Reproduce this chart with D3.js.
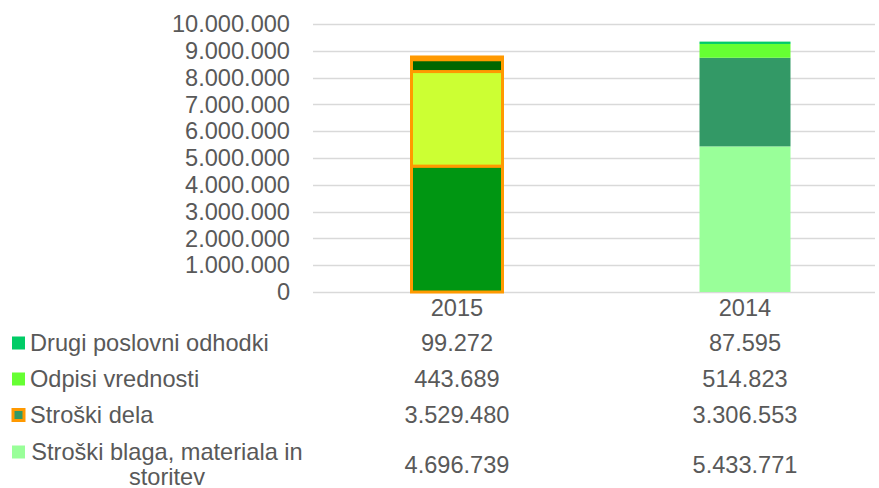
<!DOCTYPE html>
<html><head><meta charset="utf-8">
<script src="https://cdn.jsdelivr.net/npm/d3@7/dist/d3.min.js"></script>
<style>body{margin:0;background:#fff}svg{display:block}text{font-family:"Liberation Sans",Arial,sans-serif;fill:#595959}</style>
</head><body><svg id="c" width="879" height="488"></svg>
<script>
const years = ["2015", "2014"];
const seriesNames = ["Stroški blaga, materiala in storitev", "Stroški dela", "Odpisi vrednosti", "Drugi poslovni odhodki"];
const blaga = [4696739, 5433771];
const dela = [3529480, 3306553];
const odpisi = [443689, 514823];
const drugi = [99272, 87595];
const yTicks = [0,1000000,2000000,3000000,4000000,5000000,6000000,7000000,8000000,9000000,10000000];
const colors2014 = ["#99FF99", "#339966", "#66FF33", "#00CC66"];
const colors2015 = ["#009612", "#CCFF33", "#006600", "#00CC66"];
const values = [blaga, dela, odpisi, drugi];

const svg = d3.select("#c");
const fmt = v => d3.format(",")(v).replace(/,/g, ".");
const y = d3.scaleLinear().domain([0, 10000000]).range([292, 24]);
const x = d3.scaleBand().domain(years).range([313, 889]).padding(0);
const bw = 91;
const fs = 23.6;

// gridlines
svg.append("g").selectAll("line").data(yTicks).join("line")
  .attr("x1", 313).attr("x2", 875)
  .attr("y1", d => Math.round(y(d)) + 0.5).attr("y2", d => Math.round(y(d)) + 0.5)
  .attr("stroke", "#d9d9d9").attr("stroke-width", 1.5);
svg.append("g").selectAll("text").data(yTicks).join("text")
  .attr("x", 290).attr("y", d => y(d)).attr("dy", "0.35em")
  .attr("text-anchor", "end").attr("font-size", fs).text(d => fmt(d));

// stacked bars
const stackData = years.map((yr, i) => {
  const o = {year: yr};
  seriesNames.forEach((s, k) => o[s] = values[k][i]);
  return o;
});
const stack = d3.stack().keys(seriesNames)(stackData);
stack.forEach((layer, k) => {
  svg.append("g").selectAll("rect").data(layer).join("rect")
    .attr("x", d => x(d.data.year) + x.bandwidth()/2 - bw/2)
    .attr("width", bw)
    .attr("y", d => y(d[1]))
    .attr("height", d => y(d[0]) - y(d[1]))
    .attr("fill", d => d.data.year === "2015" ? colors2015[k] : colors2014[k])
    .attr("stroke", d => d.data.year === "2015" ? "#FF9900" : "none")
    .attr("stroke-width", 3);
});

// x labels
svg.append("g").selectAll("text").data(years).join("text")
  .attr("x", d => x(d) + x.bandwidth()/2).attr("y", 308).attr("dy", "0.35em")
  .attr("text-anchor", "middle").attr("font-size", fs).text(d => d);

// data table
const rows = [
  {vals: drugi, color: "#00CC66", yc: 343, lines: ["Drugi poslovni odhodki"], border: false},
  {vals: odpisi, color: "#66FF33", yc: 379, lines: ["Odpisi vrednosti"], border: false},
  {vals: dela, color: "#339966", yc: 415, lines: ["Stroški dela"], border: true},
  {vals: blaga, color: "#99FF99", yc: 465, lines: ["Stroški blaga, materiala in", "storitev"], border: false}
];
rows.forEach(r => {
  const firstY = r.lines.length > 1 ? r.yc - 13 : r.yc;
  svg.append("rect").attr("x", r.border ? 13 : 12).attr("y", firstY - 6.5 + (r.border?1:0))
    .attr("width", r.border ? 11 : 13).attr("height", r.border ? 11 : 13)
    .attr("fill", r.color)
    .attr("stroke", r.border ? "#FF9900" : "none").attr("stroke-width", 3);
  if (r.lines.length === 1) {
    svg.append("text").attr("x", 30).attr("y", r.yc).attr("dy", "0.35em")
      .attr("font-size", fs).text(r.lines[0]);
  } else {
    svg.append("text").attr("x", 167).attr("y", r.yc - 13).attr("dy", "0.35em")
      .attr("text-anchor", "middle").attr("font-size", fs).text(r.lines[0]);
    svg.append("text").attr("x", 167).attr("y", r.yc + 12).attr("dy", "0.35em")
      .attr("text-anchor", "middle").attr("font-size", fs).text(r.lines[1]);
  }
  years.forEach((yr, i) => {
    svg.append("text").attr("x", x(yr) + x.bandwidth()/2).attr("y", r.yc).attr("dy", "0.35em")
      .attr("text-anchor", "middle").attr("font-size", fs).text(fmt(r.vals[i]));
  });
});
</script></body></html>
